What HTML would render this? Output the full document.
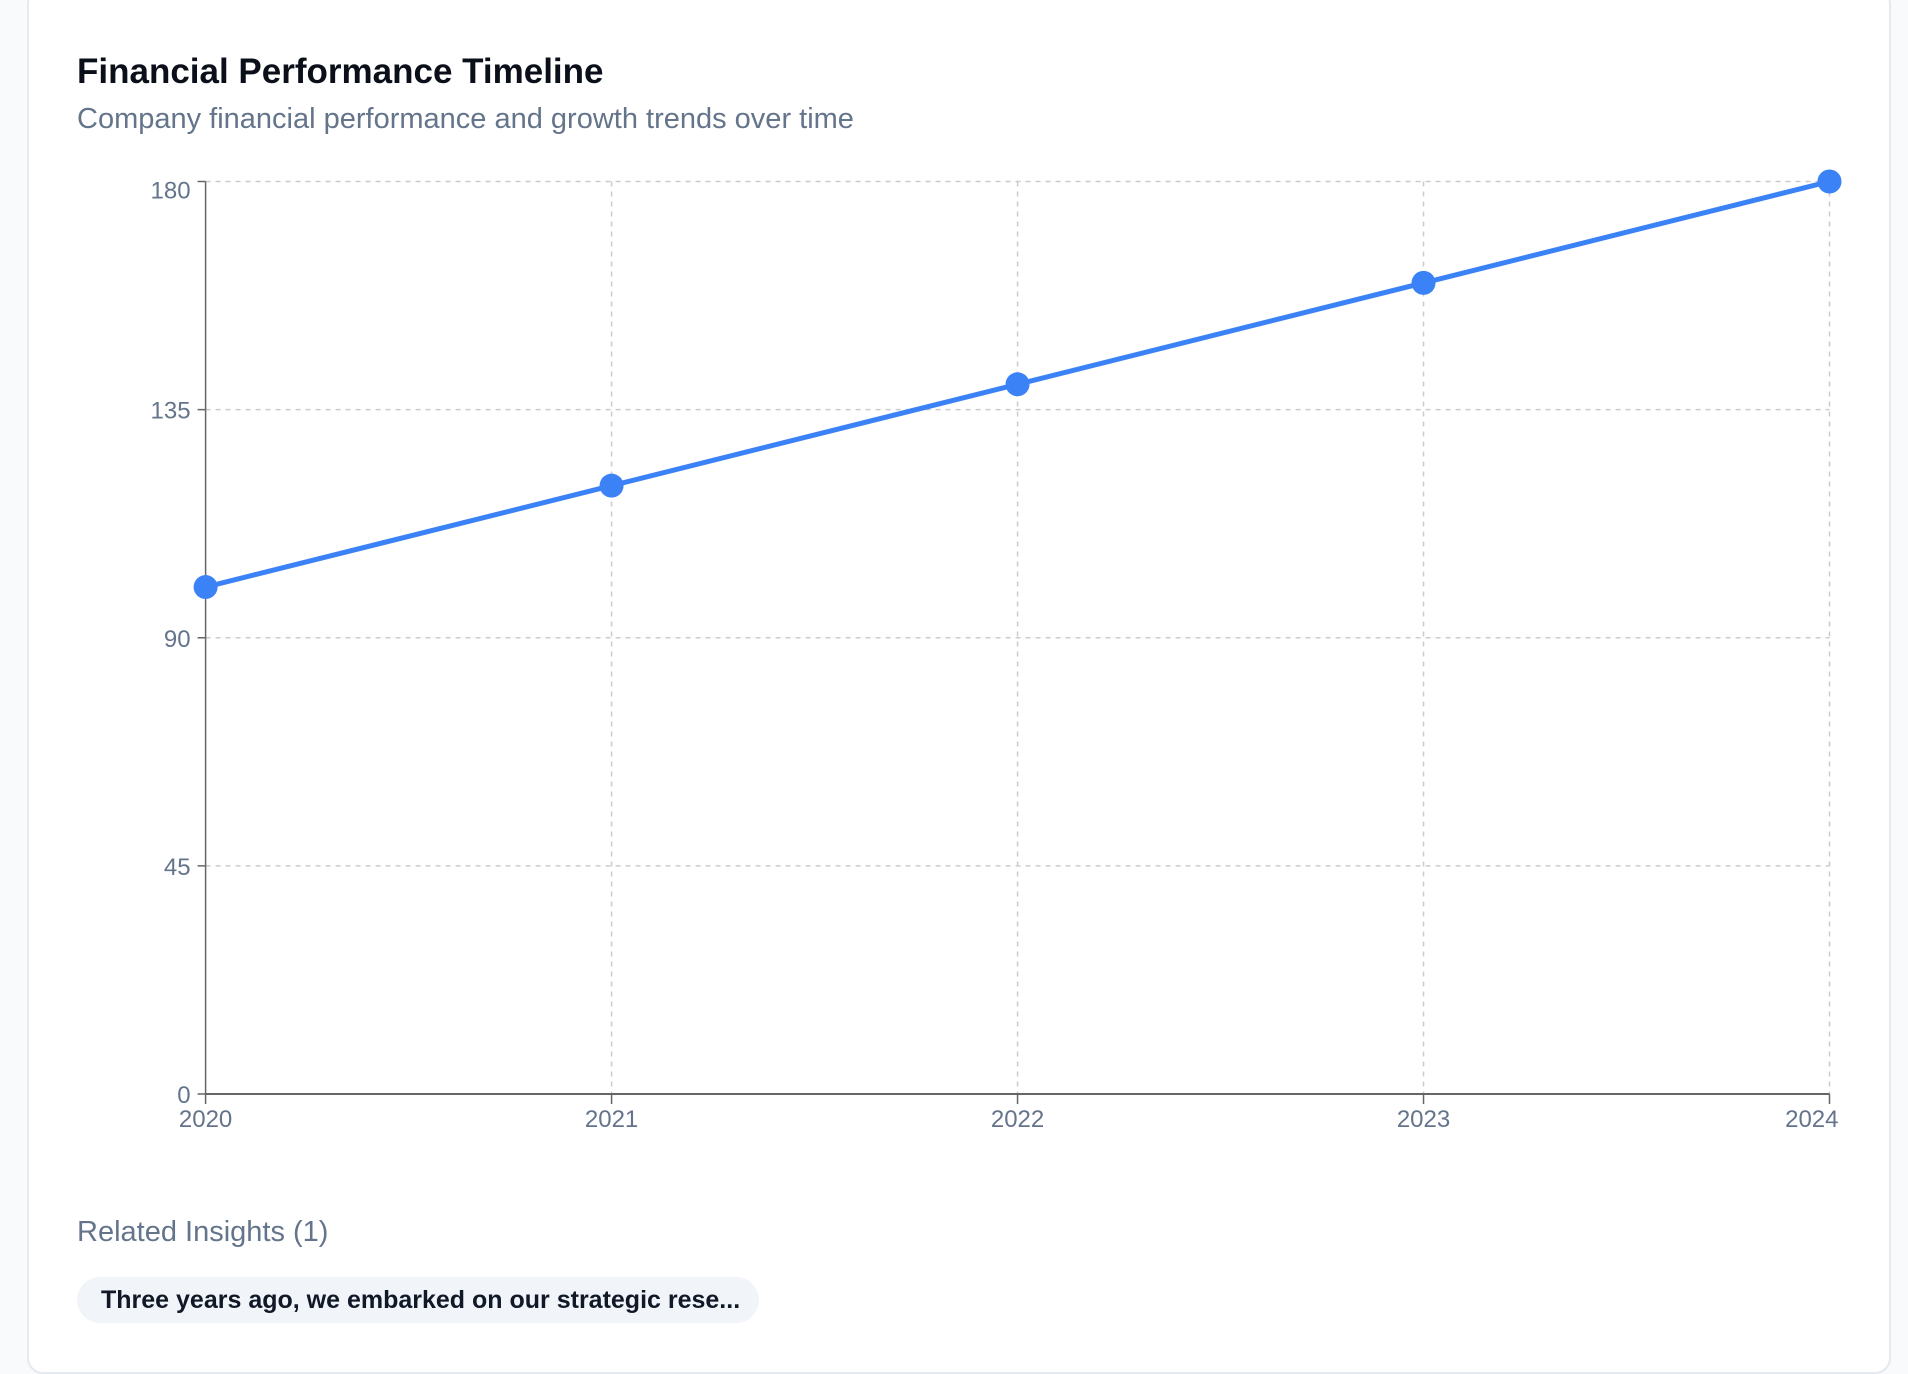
<!DOCTYPE html>
<html><head><meta charset="utf-8"><style>
body{margin:0;width:1908px;height:1372px;background:#f8fafc;overflow:hidden;font-family:"Liberation Sans",sans-serif;}
.card{position:absolute;left:27px;top:-12px;width:1860px;height:1382px;background:#fff;border:2px solid #e5e9f0;border-radius:16px;}
h1{position:absolute;left:77px;top:52px;margin:0;font-size:35px;font-weight:bold;color:#0b0f19;}
.sub{position:absolute;left:77px;top:103px;font-size:29px;color:#64748b;}
.ins{position:absolute;left:77px;top:1216px;font-size:29px;color:#64748b;}
.pill{position:absolute;left:77px;top:1277px;width:682px;height:46px;border-radius:23px;background:#f1f5f9;font-size:25px;font-weight:bold;color:#111827;line-height:46px;box-sizing:border-box;padding-left:24px;}
svg{position:absolute;left:0;top:0;}
</style></head><body>
<div class="card"></div>
<h1>Financial Performance Timeline</h1>
<div class="sub">Company financial performance and growth trends over time</div>
<svg id="chart" width="1908" height="1372"></svg>
<div class="ins">Related Insights (1)</div>
<div class="pill">Three years ago, we embarked on our strategic rese...</div>
<script>
const categories=["2020","2021","2022","2023","2024"];
const values=[100,120,140,160,180];
const yTicks=[0,45,90,135,180];
const X0=205.6,X1=1829.5,Y0=1094,Y1=181.5,YMAX=180;
const NS="http://www.w3.org/2000/svg";
const svg=document.getElementById('chart');
function x(i){return X0+(X1-X0)*i/(categories.length-1);}
function y(v){return Y0-(Y0-Y1)*v/YMAX;}
function mk(t,a){const e=document.createElementNS(NS,t);for(const k in a)e.setAttribute(k,a[k]);svg.appendChild(e);return e;}
yTicks.forEach(v=>{
  if(v>0){const g=mk('line',{x1:X0,x2:X1,y1:y(v),y2:y(v),stroke:'#ccc','stroke-width':1.5,'stroke-dasharray':'5 5'});
  
  }
  const tk=mk('line',{x1:X0-8,x2:X0,y1:y(v),y2:y(v),stroke:'#666','stroke-width':1.5});
  
  
  const ty=Math.max(y(v)+9,Y1+17);
  const t=mk('text',{x:X0-15,y:ty,'text-anchor':'end','font-size':24,fill:'#64748b','font-family':'Liberation Sans, sans-serif'});
  t.textContent=v;
  
  
});
categories.forEach((c,i)=>{
  if(i>0){const g=mk('line',{x1:x(i),x2:x(i),y1:Y1,y2:Y0,stroke:'#ccc','stroke-width':1.5,'stroke-dasharray':'5 5'});
  
  }
  const tk=mk('line',{x1:x(i),x2:x(i),y1:Y0,y2:Y0+10,stroke:'#666','stroke-width':1.5});
  
  
  const last=i===categories.length-1;
  const t=mk('text',{x:last?x(i)+9:x(i),y:Y0+33,'text-anchor':last?'end':'middle','font-size':24,fill:'#64748b','font-family':'Liberation Sans, sans-serif'});
  t.textContent=c;
  
  
});
const ax=mk('line',{x1:X0,x2:X0,y1:Y1,y2:Y0,stroke:'#666','stroke-width':1.5});


const bx=mk('line',{x1:X0,x2:X1,y1:Y0,y2:Y0,stroke:'#666','stroke-width':2});


const ln=mk('polyline',{points:values.map((v,i)=>x(i)+','+y(v)).join(' '),fill:'none',stroke:'#3b82f6','stroke-width':5,'stroke-linejoin':'round'});


values.forEach((v,i)=>{
  const c=mk('circle',{cx:x(i),cy:y(v),r:12,fill:'#3b82f6'});
  
  
});
</script>
</body></html>
